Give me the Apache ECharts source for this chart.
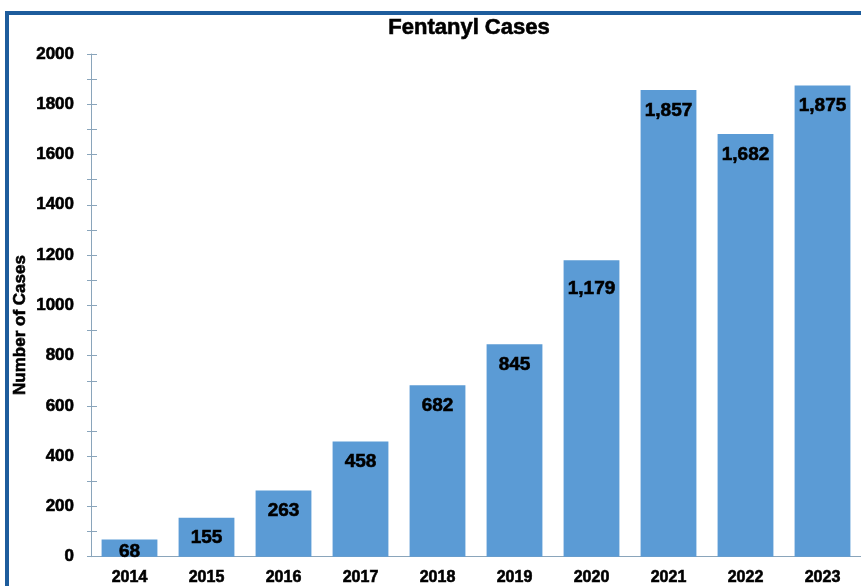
<!DOCTYPE html>
<html>
<head>
<meta charset="utf-8">
<script src="https://cdn.jsdelivr.net/npm/echarts@6/dist/echarts.min.js"></script>
<style>
  html, body { margin: 0; padding: 0; background: #ffffff; }
  #chart { width: 861px; height: 586px; }
</style>
</head>
<body>
<div id="chart"></div>
<script>
// Annual fentanyl case counts
const years = ['2014', '2015', '2016', '2017', '2018', '2019', '2020', '2021', '2022', '2023'];
const cases = [68, 155, 263, 458, 682, 845, 1179, 1857, 1682, 1875];
const yTicks = { min: 0, max: 2000, step: 200 };

const FONT = '"Liberation Sans", Arial, sans-serif';
const AXIS_COLOR = '#8aa5bb';
// slight outline thickens the bold glyphs
const heavy = { textBorderColor: '#000', textBorderWidth: 0.6 };
const heavyGraphic = { stroke: '#000', lineWidth: 0.6 };

const chart = echarts.init(document.getElementById('chart'), null, { renderer: 'canvas' });

const barData = cases.map((v, i) => {
  const item = { value: v };
  if (v < 100) item.label = { position: 'insideBottom', distance: -5 };
  if (years[i] === '2020') item.label = { offset: [0, 8] };
  return item;
});

// two overlaid value axes so the ticks cross the axis line
const sharedY = {
  type: 'value',
  position: 'left',
  offset: 0,
  min: yTicks.min,
  max: yTicks.max,
  interval: yTicks.step,
  splitLine: { show: false },
  minorSplitLine: { show: false }
};

chart.setOption({
  animation: false,
  backgroundColor: '#ffffff',
  textStyle: { fontFamily: FONT },
  grid: { left: 91, right: -3, top: 54, bottom: 28, containLabel: false },
  xAxis: {
    type: 'category',
    data: years,
    axisLine: { lineStyle: { color: AXIS_COLOR, width: 1 } },
    axisTick: { show: false },
    axisLabel: Object.assign({ color: '#000', fontWeight: 'bold', fontSize: 16, fontFamily: FONT, margin: 13 }, heavy)
  },
  yAxis: [
    Object.assign({}, sharedY, {
      axisLine: { show: true, lineStyle: { color: AXIS_COLOR, width: 1 } },
      axisTick: { show: true, length: 4, lineStyle: { color: AXIS_COLOR } },
      minorTick: { show: true, splitNumber: 2, length: 4, lineStyle: { color: AXIS_COLOR } },
      axisLabel: Object.assign({
        color: '#000', fontWeight: 'bold', fontSize: 17, fontFamily: FONT, margin: 17,
        formatter: v => String(v)
      }, heavy)
    }),
    Object.assign({}, sharedY, {
      axisLine: { show: false },
      axisTick: { show: true, inside: true, length: 6, lineStyle: { color: AXIS_COLOR } },
      minorTick: { show: true, splitNumber: 2, length: 6, lineStyle: { color: AXIS_COLOR } },
      axisLabel: { show: false }
    })
  ],
  series: [{
    type: 'bar',
    yAxisIndex: 0,
    data: barData,
    barCategoryGap: '27.5%',
    itemStyle: { color: '#5b9bd5' },
    label: Object.assign({
      show: true,
      position: 'insideTop',
      distance: 11,
      color: '#000',
      fontWeight: 'bold',
      fontSize: 19,
      fontFamily: FONT,
      formatter: p => p.value.toLocaleString('en-US')
    }, heavy)
  }],
  graphic: [
    {
      type: 'rect',
      shape: { x: 7, y: 13, width: 900, height: 700 },
      style: { fill: 'none', stroke: '#1d5c9c', lineWidth: 4 },
      silent: true
    },
    {
      type: 'text',
      x: 469, y: 28,
      style: Object.assign({
        text: 'Fentanyl Cases',
        fill: '#000',
        font: 'bold 22px ' + FONT,
        align: 'center',
        verticalAlign: 'middle'
      }, heavyGraphic)
    },
    {
      type: 'text',
      x: 20, y: 325,
      rotation: Math.PI / 2,
      style: Object.assign({
        text: 'Number of Cases',
        fill: '#000',
        font: 'bold 17px ' + FONT,
        align: 'center',
        verticalAlign: 'middle'
      }, heavyGraphic)
    }
  ]
});
</script>
</body>
</html>
